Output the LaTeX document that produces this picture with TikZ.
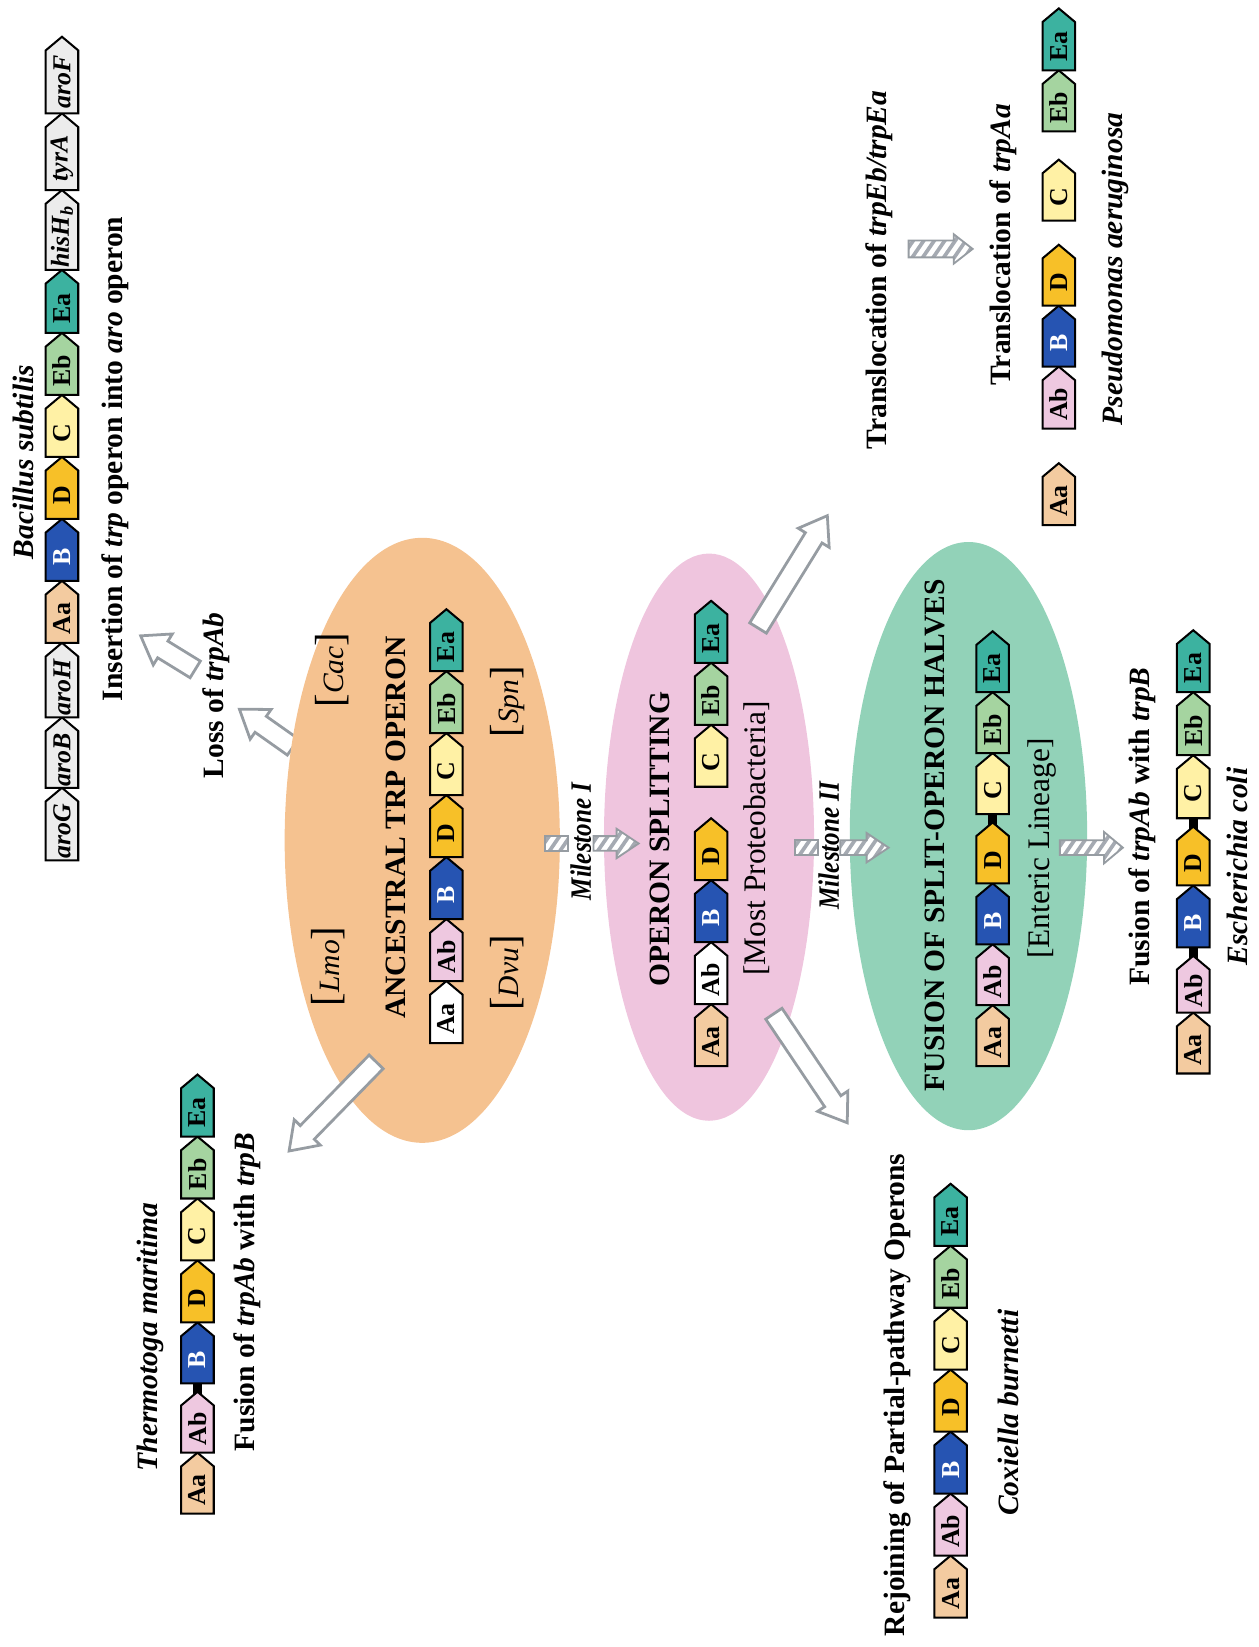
\documentclass[tikz,border=0pt]{standalone}
\usepackage{fontspec}
\setmainfont{Liberation Serif}
\usetikzlibrary{shapes.arrows,calc}

\definecolor{orangebg}{RGB}{245,194,144}
\definecolor{pinkbg}{RGB}{239,197,222}
\definecolor{greenbg}{RGB}{146,210,184}
\definecolor{cAa}{RGB}{243,203,160}
\definecolor{cAb}{RGB}{238,200,224}
\definecolor{cB}{RGB}{38,84,178}
\definecolor{cD}{RGB}{247,192,40}
\definecolor{cC}{RGB}{255,241,165}
\definecolor{cEb}{RGB}{165,212,160}
\definecolor{cEa}{RGB}{60,178,160}
\definecolor{caro}{RGB}{236,236,236}
\definecolor{arrowgray}{RGB}{150,156,162}
\definecolor{hatchgray}{RGB}{165,170,178}

\newcount\genecnt
\newcommand{\gene}[6][black]{%
  \global\advance\genecnt by 1
  \edef\gname{gene\the\genecnt}%
  \pgfmathsetmacro{\gsh}{#4+13}%
  \pgfmathsetmacro{\gmid}{(#3+#4+13)/2}%
  \draw[genebox,fill=#5] ({#2-15.5},#3) -- ({#2-15.5},\gsh) -- (#2,#4) -- ({#2+15.5},\gsh) -- ({#2+15.5},#3) -- cycle;
  \node[glabel,text=#1] (\gname) at (#2,\gmid) {#6};
}
\newcommand{\gbar}[3]{\fill[black] ({#1-4.5},#2) rectangle ({#1+4.5},#3);}
\newcommand{\hatched}[3]{%
  \begin{scope}
    \clip #1;
    \fill[white] ({#2-10},{#3-30}) rectangle ({#2+120},{#3+30});
    \foreach \s in {0,10,...,130}{\draw[hatchline] ({#2+\s-22},{#3+16}) -- ({#2+\s},{#3-16});}
  \end{scope}
  \draw[hatchedge] #1;
}
\newcommand{\blockarr}[3]{%
  \path let \p1=($(#2)-(#1)$), \n1={atan2(\y1,\x1)}, \n2={veclen(\x1,\y1)} in
    node[blockarrow, minimum height=\n2, rotate=\n1, anchor=tail] (#3) at (#1) {};
}
\newcommand{\brk}[1]{{\fontsize{22}{22}\selectfont[}\textit{#1}{\fontsize{22}{22}\selectfont]}}

\begin{document}
\begin{tikzpicture}[x=0.2mm,y=-0.2mm,
  genebox/.style={draw=black, line width=1.1pt, line join=miter},
  glabel/.style={rotate=90, inner sep=0pt, font=\fontsize{14}{14}\selectfont\bfseries},
  lab/.style={rotate=90, inner sep=0pt, font=\fontsize{16}{18}\selectfont\bfseries},
  splab/.style={rotate=90, inner sep=0pt, font=\fontsize{16}{18}\selectfont\bfseries\itshape},
  reglab/.style={rotate=90, inner sep=0pt, font=\fontsize{17}{18}\selectfont},
  brlab/.style={rotate=90, inner sep=0pt, font=\fontsize{16}{18}\selectfont},
  mlab/.style={rotate=90, inner sep=0pt, font=\fontsize{16}{18}\selectfont\bfseries\itshape},
  hatchline/.style={draw=hatchgray, line width=2pt},
  hatchedge/.style={draw=arrowgray, line width=1pt, line join=miter},
  blockarrow/.style={single arrow, draw=arrowgray, line width=1.5pt, fill=white,
    inner sep=0pt, text height=3.2mm, text depth=0pt,
    single arrow head extend=1.6mm, single arrow tip angle=70, line join=miter}
]
\useasboundingbox (0,0) rectangle (1198,1568);

% arrow partly hidden by the ancestral ellipse
\coordinate (la1) at (280,712);
\coordinate (lb1) at (229,676);
\blockarr{la1}{lb1}{arrLossA}

% ellipses
\fill[orangebg] (402,800) ellipse [x radius=131, y radius=288];
\fill[pinkbg] (675,797) ellipse [x radius=100, y radius=270];
\fill[greenbg] (922,796) ellipse [x radius=113, y radius=280];

% fusion bars
\gbar{188}{1330}{1312}
\gbar{945}{788}{770}
\gbar{1136}{792}{774}
\gbar{1136}{915}{897}

% ---- Bacillus subtilis row
\gene{59}{819}{750}{caro}{\textit{aroG}}
\gene{59}{750}{683}{caro}{\textit{aroB}}
\gene{59}{683}{612}{caro}{\textit{aroH}}
\gene{59}{612}{553}{cAa}{Aa}
\gene[white]{59}{553}{494}{cB}{B}
\gene{59}{494}{435}{cD}{D}
\gene{59}{435}{376}{cC}{C}
\gene{59}{376}{317}{cEb}{Eb}
\gene{59}{317}{257}{cEa}{Ea}
\gene{59}{257}{181}{caro}{\textit{hisH\textsubscript{b}}}
\gene{59}{181}{108}{caro}{\textit{tyrA}}
\gene{59}{108}{35}{caro}{\textit{aroF}}

% ---- Thermotoga row
\gene{188}{1441}{1383}{cAa}{Aa}
\gene{188}{1383}{1325}{cAb}{Ab}
\gene[white]{188}{1317}{1259}{cB}{B}
\gene{188}{1259}{1200}{cD}{D}
\gene{188}{1200}{1141}{cC}{C}
\gene{188}{1141}{1082}{cEb}{Eb}
\gene{188}{1082}{1023}{cEa}{Ea}

% ---- Ancestral row
\gene{425}{993}{934}{white}{Aa}
\gene{425}{934}{875}{cAb}{Ab}
\gene[white]{425}{875}{816}{cB}{B}
\gene{425}{816}{757}{cD}{D}
\gene{425}{757}{698}{cC}{C}
\gene{425}{698}{639}{cEb}{Eb}
\gene{425}{639}{580}{cEa}{Ea}

% ---- Operon splitting row
\gene{677}{1015}{956}{cAa}{Aa}
\gene{677}{956}{897}{white}{Ab}
\gene[white]{677}{897}{838}{cB}{B}
\gene{677}{838}{779}{cD}{D}
\gene{677}{749}{690}{cC}{C}
\gene{677}{690}{631}{cEb}{Eb}
\gene{677}{631}{572}{cEa}{Ea}

% ---- Fusion row (green)
\gene{945}{1015}{957}{cAa}{Aa}
\gene{945}{957}{899}{cAb}{Ab}
\gene[white]{945}{899}{841}{cB}{B}
\gene{945}{841}{783}{cD}{D}
\gene{945}{775}{717}{cC}{C}
\gene{945}{717}{659}{cEb}{Eb}
\gene{945}{659}{601}{cEa}{Ea}

% ---- Coxiella row
\gene{905}{1540}{1481}{cAa}{Aa}
\gene{905}{1481}{1422}{cAb}{Ab}
\gene[white]{905}{1422}{1363}{cB}{B}
\gene{905}{1363}{1304}{cD}{D}
\gene{905}{1304}{1245}{cC}{C}
\gene{905}{1245}{1186}{cEb}{Eb}
\gene{905}{1186}{1127}{cEa}{Ea}

% ---- Pseudomonas row
\gene{1008}{500}{441}{cAa}{Aa}
\gene{1008}{408}{349}{cAb}{Ab}
\gene[white]{1008}{349}{291}{cB}{B}
\gene{1008}{291}{233}{cD}{D}
\gene{1008}{210}{152}{cC}{C}
\gene{1008}{125}{67}{cEb}{Eb}
\gene{1008}{67}{8}{cEa}{Ea}

% ---- E. coli row
\gene{1136}{1022}{964}{cAa}{Aa}
\gene{1136}{964}{910}{cAb}{Ab}
\gene[white]{1136}{902}{843}{cB}{B}
\gene{1136}{843}{787}{cD}{D}
\gene{1136}{779}{719}{cC}{C}
\gene{1136}{719}{659}{cEb}{Eb}
\gene{1136}{659}{600}{cEa}{Ea}

% ---- hatched arrows
\hatched{(519,796) rectangle (541,810)}{519}{803}
\hatched{(565,796) -- (587,796) -- (587,789) -- (608,803) -- (587,817) -- (587,810) -- (565,810) -- cycle}{565}{803}
\hatched{(757,800) rectangle (779,814)}{757}{807}
\hatched{(800,800) -- (825,800) -- (825,793) -- (846,807) -- (825,821) -- (825,814) -- (800,814) -- cycle}{800}{807}
\hatched{(1009,800) -- (1051,800) -- (1051,792) -- (1069,807) -- (1051,822) -- (1051,814) -- (1009,814) -- cycle}{1009}{807}
\hatched{(865,229) -- (908,229) -- (908,223) -- (926,237) -- (908,251) -- (908,245) -- (865,245) -- cycle}{865}{237}

% ---- block arrows
\coordinate (la2) at (187,638); \coordinate (lb2) at (135,606);
\blockarr{la2}{lb2}{arrLossB}
\coordinate (ta) at (359,1010); \coordinate (tb) at (276,1095);
\blockarr{ta}{tb}{arrThermo}
\coordinate (pa) at (721,599); \coordinate (pb) at (787,492);
\blockarr{pa}{pb}{arrPseudo}
\coordinate (qa) at (736,964); \coordinate (qb) at (806,1068);
\blockarr{qa}{qb}{arrCox}

% ---- texts
\node[splab] (bsub) at (22,440) {Bacillus subtilis};
\node[lab] (insert) at (110,437) {Insertion of \textit{trp} operon into \textit{aro} operon};
\node[lab] (loss) at (206,662) {Loss of \textit{trpAb}};
\node[splab] (tmar) at (143,1273) {Thermotoga maritima};
\node[lab] (fusL) at (235,1230) {Fusion of \textit{trpAb} with \textit{trpB}};

\node[brlab] (lmo) at (312,920) {\brk{Lmo}};
\node[brlab] (cac) at (316,638) {\brk{Cac}};
\node[lab] (anc) at (377,788) {ANCESTRAL TRP OPERON};
\node[brlab] (dvu) at (483,926) {\brk{Dvu}};
\node[brlab] (spn) at (483,668) {\brk{Spn}};

\node[mlab] (m1) at (553,801) {\scalebox{0.85}[1]{Milestone I}};
\node[lab] (split) at (628,799) {OPERON SPLITTING};
\node[reglab] (most) at (720,798) {[Most Proteobacteria]};
\node[mlab] (m2) at (789,805) {\scalebox{0.85}[1]{Milestone II}};

\node[lab] (trEb) at (837,257) {Translocation of \textit{trpEb/trpEa}};
\node[lab] (rejoin) at (854,1328) {Rejoining of Partial-pathway Operons};
\node[lab] (fusion) at (890,795) {FUSION OF SPLIT-OPERON HALVES};
\node[reglab] (enteric) at (992,808) {[Enteric Lineage]};
\node[lab] (trAa) at (955,233) {Translocation of \textit{trpAa}};
\node[splab] (cox) at (960,1345) {Coxiella burnetti};
\node[splab] (pae) at (1062,256) {Pseudomonas aeruginosa};
\node[lab] (fusR) at (1087,787) {Fusion of \textit{trpAb} with \textit{trpB}};
\node[splab] (eco) at (1178,825) {Escherichia coli};
\end{tikzpicture}
\end{document}
